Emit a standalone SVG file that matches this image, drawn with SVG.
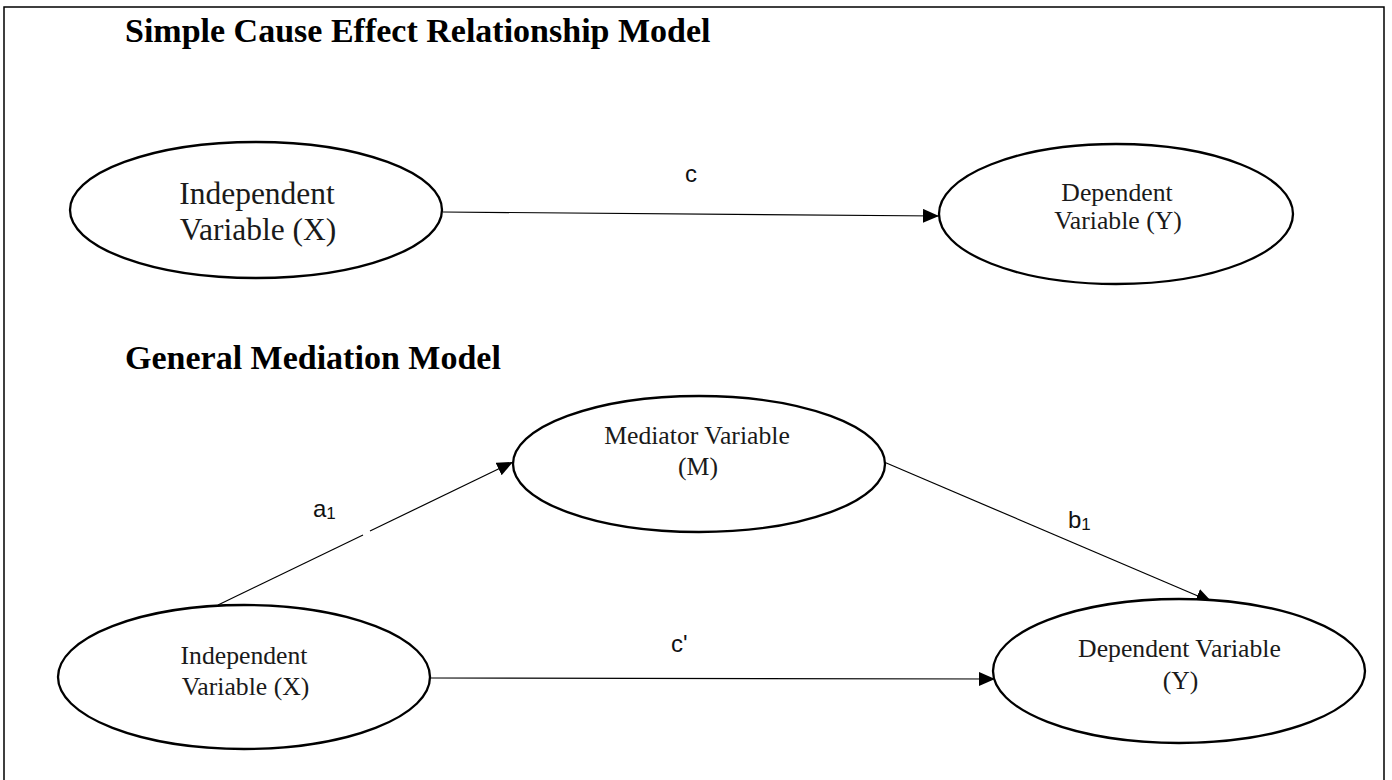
<svg xmlns="http://www.w3.org/2000/svg" width="1392" height="780" viewBox="0 0 1392 780">
<style>
.title{font-family:"Liberation Serif","Times New Roman",serif;font-weight:bold;font-size:34px;fill:#000}
.nt{font-family:"Liberation Serif","Times New Roman",serif;font-size:25.7px;fill:#1a1a1a;text-anchor:middle}
.lbl{font-family:"Liberation Sans",Arial,sans-serif;font-size:24px;fill:#111}
.sub{font-size:17px}
.ell{fill:#fff;stroke:#000;stroke-width:2.3}
.con{stroke:#000;stroke-width:1.2;fill:none}
</style>
<defs>
<marker id="ah" markerUnits="userSpaceOnUse" markerWidth="18" markerHeight="14" refX="16" refY="7" orient="auto">
<path d="M0,0 L16,7 L0,14 Z" fill="#000"/>
</marker>
</defs>
<rect width="1392" height="780" fill="#fff"/>
<path d="M4,780 V7 H1384 V780" fill="none" stroke="#000" stroke-width="1.5"/>
<text class="title" x="125" y="42">Simple Cause Effect Relationship Model</text>
<text class="title" x="125" y="369">General Mediation Model</text>
<g id="connectors">
<line class="con" x1="443" y1="212" x2="939" y2="216" marker-end="url(#ah)"/>
<line class="con" x1="218" y1="605" x2="363" y2="535"/>
<line class="con" x1="370" y1="531" x2="513" y2="462" marker-end="url(#ah)"/>
<line class="con" x1="884" y1="462" x2="1212" y2="602" marker-end="url(#ah)"/>
<line class="con" x1="430" y1="678" x2="995" y2="679" marker-end="url(#ah)"/>
<text class="lbl" x="685" y="182">c</text>
<text class="lbl" x="313" y="517">a<tspan class="sub" dy="2">1</tspan></text>
<text class="lbl" x="1068" y="528">b<tspan class="sub" dy="2">1</tspan></text>
<text class="lbl" x="671" y="652">c'</text>
</g>
<g id="node-x1">
<ellipse class="ell" cx="256" cy="210" rx="186" ry="68"/>
<text class="nt" style="font-size:31.5px" x="257" y="204">Independent</text>
<text class="nt" style="font-size:31.5px" x="258" y="240">Variable (X)</text>
</g>
<g id="node-y1">
<ellipse class="ell" cx="1116" cy="214" rx="177" ry="70"/>
<text class="nt" x="1117" y="201">Dependent</text>
<text class="nt" x="1118" y="229">Variable (Y)</text>
</g>
<g id="node-m">
<ellipse class="ell" cx="699" cy="464" rx="186" ry="68"/>
<text class="nt" x="697" y="444">Mediator Variable</text>
<text class="nt" x="698" y="475">(M)</text>
</g>
<g id="node-x2">
<ellipse class="ell" cx="244" cy="677" rx="186" ry="72"/>
<text class="nt" x="244" y="664">Independent</text>
<text class="nt" x="245.5" y="695">Variable (X)</text>
</g>
<g id="node-y2">
<ellipse class="ell" cx="1179" cy="671" rx="186" ry="72"/>
<text class="nt" x="1179.5" y="657">Dependent Variable</text>
<text class="nt" x="1180.5" y="689">(Y)</text>
</g>
</svg>
